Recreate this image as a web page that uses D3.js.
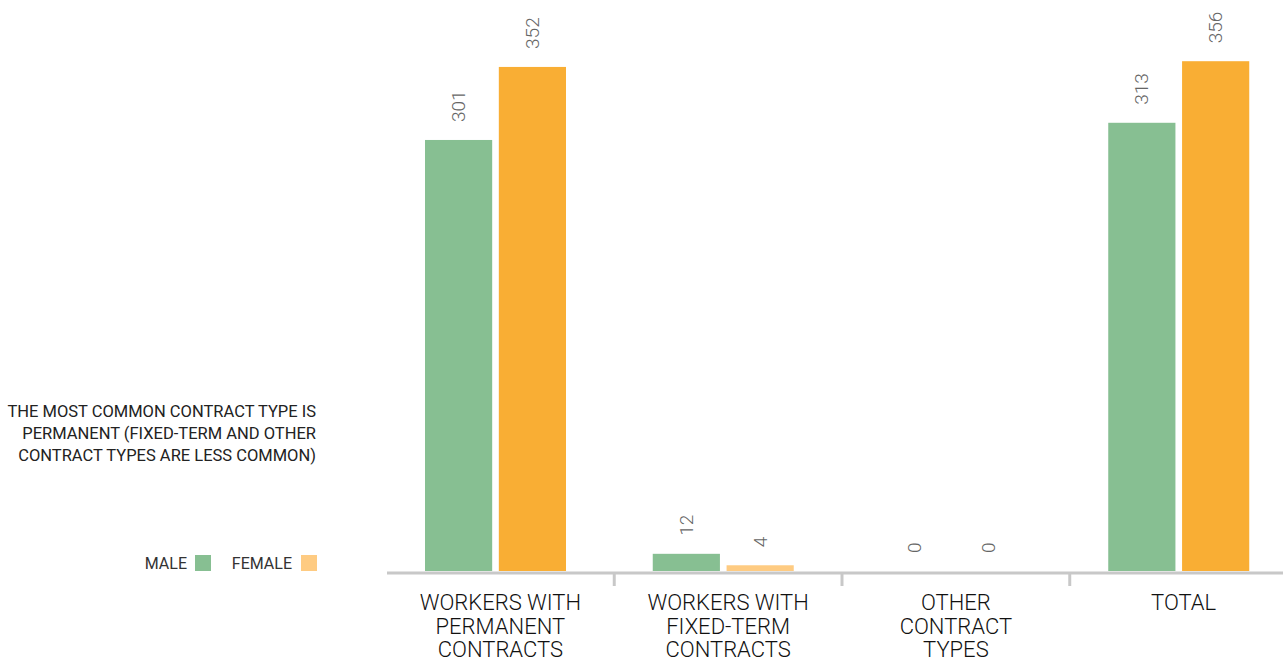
<!DOCTYPE html>
<html>
<head>
<meta charset="utf-8">
<script src="https://cdn.jsdelivr.net/npm/d3@7"></script>
<style>
  html, body { margin: 0; padding: 0; background: #fff; }
  svg { display: block; font-family: Roboto, "Liberation Sans", sans-serif; }
</style>
</head>
<body>
<div id="chart"></div>
<script>
const categories = ["permanent", "fixed", "other", "total"];
const categoryLabels = [
  ["WORKERS WITH", "PERMANENT", "CONTRACTS"],
  ["WORKERS WITH", "FIXED-TERM", "CONTRACTS"],
  ["OTHER", "CONTRACT", "TYPES"],
  ["TOTAL"]
];
const seriesNames = ["MALE", "FEMALE"];
const maleValues = [301, 12, 0, 313];
const femaleValues = [352, 4, 0, 356];
const noteLines = [
  "THE MOST COMMON CONTRACT TYPE IS",
  "PERMANENT (FIXED-TERM AND OTHER",
  "CONTRACT TYPES ARE LESS COMMON)"
];

const width = 1283;
const height = 662;

const green = "#87bf92";
const orange = "#f9ae34";
const lightOrange = "#fecb82";

const rows = categories.map((c, i) => ({
  key: c,
  values: [
    { series: "MALE", value: maleValues[i] },
    { series: "FEMALE", value: femaleValues[i] }
  ]
}));

const svg = d3.select("#chart")
  .append("svg")
  .attr("width", width)
  .attr("height", height);

const x = d3.scaleBand()
  .domain(categories)
  .range([386.5, 1297.5])
  .padding(0);

const xInner = d3.scaleBand()
  .domain(seriesNames)
  .range([38.5, 179.5])
  .paddingInner(0.09)
  .paddingOuter(0);

const y = d3.scaleLinear()
  .domain([0, 400])
  .range([571, 571 - 400 * 1.432]);

function barColor(d, cat) {
  if (d.series === "MALE") return green;
  if (cat === "fixed") return lightOrange;
  return orange;
}

const groups = svg.selectAll(".group")
  .data(rows)
  .enter()
  .append("g")
  .attr("class", "group")
  .attr("transform", d => `translate(${x(d.key)},0)`);

groups.selectAll("rect")
  .data(d => d.values.map(v => ({ ...v, cat: d.key })))
  .enter()
  .append("rect")
  .attr("x", d => xInner(d.series))
  .attr("width", xInner.bandwidth())
  .attr("y", d => y(d.value))
  .attr("height", d => y(0) - y(d.value))
  .attr("fill", d => barColor(d, d.cat));

groups.selectAll(".val")
  .data(d => d.values)
  .enter()
  .append("text")
  .attr("class", "val")
  .attr("transform", d => `translate(${xInner(d.series) + xInner.bandwidth() / 2},${y(d.value) - 18}) rotate(-90)`)
  .attr("dy", "0.35em")
  .attr("font-size", "19px")
  .attr("font-weight", 300)
  .attr("fill", "#666")
  .text(d => d.value);

// axis line and separators
svg.append("line")
  .attr("x1", 387)
  .attr("x2", width)
  .attr("y1", 573)
  .attr("y2", 573)
  .attr("stroke", "#c8c8c8")
  .attr("stroke-width", 3);

svg.selectAll(".sep")
  .data(categories.slice(1))
  .enter()
  .append("line")
  .attr("class", "sep")
  .attr("x1", d => x(d))
  .attr("x2", d => x(d))
  .attr("y1", 573)
  .attr("y2", 586)
  .attr("stroke", "#c8c8c8")
  .attr("stroke-width", 3);

// category labels
const catText = svg.selectAll(".cat")
  .data(categories)
  .enter()
  .append("text")
  .attr("class", "cat")
  .attr("text-anchor", "middle")
  .attr("font-size", "22px")
  .attr("font-weight", 300)
  .attr("fill", "#111");

catText.selectAll("tspan")
  .data((d, i) => categoryLabels[i].map(t => ({ t, cx: x(d) + x.bandwidth() / 2 })))
  .enter()
  .append("tspan")
  .attr("x", d => d.cx)
  .attr("y", (d, i) => 610 + i * 23.5)
  .text(d => d.t);

// note on the left
svg.append("text")
  .attr("text-anchor", "end")
  .attr("font-size", "16.5px")
  .attr("fill", "#222")
  .selectAll("tspan")
  .data(noteLines)
  .enter()
  .append("tspan")
  .attr("x", 316)
  .attr("y", (d, i) => 417 + i * 22)
  .text(d => d);

// legend
const legendItems = [
  { name: "MALE", color: green, textEnd: 187, box: 195 },
  { name: "FEMALE", color: lightOrange, textEnd: 292, box: 301 }
];

const legend = svg.selectAll(".legend")
  .data(legendItems)
  .enter()
  .append("g")
  .attr("class", "legend");

legend.append("text")
  .attr("x", d => d.textEnd)
  .attr("y", 569)
  .attr("text-anchor", "end")
  .attr("font-size", "16px")
  .attr("fill", "#333")
  .text(d => d.name);

legend.append("rect")
  .attr("x", d => d.box)
  .attr("y", 555)
  .attr("width", 16)
  .attr("height", 16)
  .attr("fill", d => d.color);
</script>
</body>
</html>
